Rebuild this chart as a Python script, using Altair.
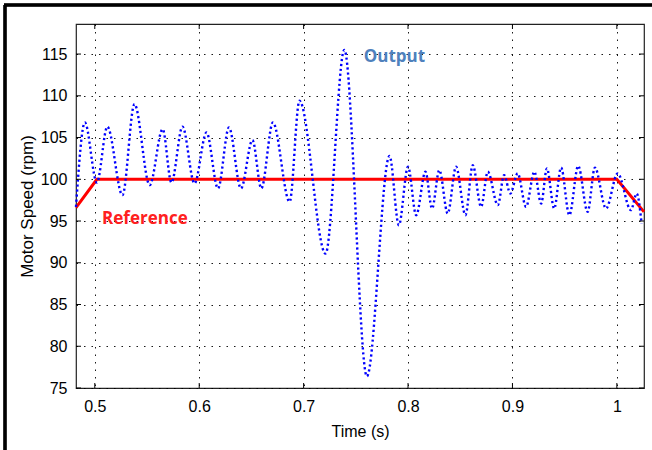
import altair as alt
import pandas as pd

# Output (motor speed): times (s) and speeds (rpm)
out_t = [0.482, 0.4905, 0.502, 0.512, 0.5265, 0.538, 0.5526, 0.565, 0.5734, 0.584,
         0.5955, 0.607, 0.618, 0.6285, 0.640, 0.651, 0.6595, 0.6706, 0.6866, 0.696,
         0.721, 0.739, 0.7606, 0.7823, 0.7912, 0.800, 0.8078, 0.8167, 0.823, 0.830,
         0.838, 0.846, 0.855, 0.862, 0.870, 0.8764, 0.886, 0.892, 0.898, 0.905,
         0.913, 0.921, 0.9275, 0.933, 0.940, 0.9466, 0.9545, 0.963, 0.972, 0.979,
         0.9896, 1.0008, 1.0135, 1.019, 1.0237]
out_v = [96.7, 106.8, 99.6, 106.3, 98.1, 109.0, 99.3, 106.0, 99.6, 106.3,
         99.5, 105.6, 98.9, 106.2, 98.9, 104.7, 98.9, 106.8, 97.3, 109.4,
         91.1, 115.5, 76.4, 102.8, 94.5, 101.5, 95.7, 100.9, 96.5, 101.1,
         95.9, 101.5, 95.7, 101.7, 96.7, 100.9, 96.9, 100.5, 98.3, 100.7,
         96.7, 100.9, 97.1, 101.3, 96.5, 101.4, 95.7, 101.6, 96.1, 101.4,
         96.5, 100.7, 96.3, 98.3, 94.7]

# Reference speed
ref_t = [0.482, 0.502, 1.0, 1.026]
ref_v = [96.6, 100.0, 100.0, 96.1]

x_ticks = [0.5, 0.6, 0.7, 0.8, 0.9, 1.0]
y_ticks = [75, 80, 85, 90, 95, 100, 105, 110, 115]
x_domain = [0.482, 1.026]
y_domain = [75, 118.6]

labels = ["Output", "Reference"]
label_t = [0.787, 0.548]
label_v = [114.6, 95.3]
label_color = ["#4f81bd", "#ff2020"]

W, H = 568, 364
FONT = "Liberation Sans"

out_df = pd.DataFrame({"t": out_t, "v": out_v})
ref_df = pd.DataFrame({"t": ref_t, "v": ref_v})
xt_df = pd.DataFrame({"t": x_ticks})
yt_df = pd.DataFrame({"v": y_ticks})
lab_df = pd.DataFrame({"t": label_t, "v": label_v, "lab": labels, "c": label_color})

xs = alt.Scale(domain=x_domain, nice=False, zero=False)
ys = alt.Scale(domain=y_domain, nice=False, zero=False)

x_axis = alt.Axis(values=x_ticks, format="~g", grid=True, gridDash=[1.5, 6],
                  gridColor="#000000", gridOpacity=0.9, tickSize=0, domain=False,
                  labelFont=FONT, labelFontSize=16, labelColor="#000", labelPadding=10,
                  title="Time (s)", titleFont=FONT, titleFontSize=16,
                  titleFontWeight="normal", titleColor="#000", titlePadding=9)
y_axis = alt.Axis(values=y_ticks, grid=True, gridDash=[1.5, 6],
                  gridColor="#000000", gridOpacity=0.9, tickSize=0, domain=False,
                  labelFont=FONT, labelFontSize=16, labelColor="#000", labelPadding=9,
                  title="Motor Speed (rpm)", titleFont=FONT, titleFontSize=17,
                  titleFontWeight="normal", titleColor="#000", titlePadding=4)

X = alt.X("t:Q", scale=xs, axis=x_axis)
Y = alt.Y("v:Q", scale=ys, axis=y_axis)

ref = alt.Chart(ref_df).mark_line(color="#ff0000", strokeWidth=3).encode(x=X, y=Y)

out = alt.Chart(out_df).mark_line(color="#0000ff", strokeWidth=2.4,
                                  strokeDash=[2.2, 2.8], interpolate="monotone").encode(x=X, y=Y)

tick_len = 5
xb = alt.Chart(xt_df).mark_rule(color="#000", strokeWidth=1).encode(
    x=X, y=alt.value(H), y2=alt.value(H - tick_len))
xtp = alt.Chart(xt_df).mark_rule(color="#000", strokeWidth=1).encode(
    x=X, y=alt.value(0), y2=alt.value(tick_len))
yl = alt.Chart(yt_df).mark_rule(color="#000", strokeWidth=1).encode(
    y=Y, x=alt.value(0), x2=alt.value(tick_len))
yr = alt.Chart(yt_df).mark_rule(color="#000", strokeWidth=1).encode(
    y=Y, x=alt.value(W), x2=alt.value(W - tick_len))

txt = alt.Chart(lab_df).mark_text(font="Open Sans", fontSize=17, fontWeight="bold").encode(
    x=X, y=Y,
    text="lab:N",
    color=alt.Color("c:N", scale=None),
)

frame_left = alt.Chart(xt_df).mark_rule(color="#000", strokeWidth=2.5).encode(
    x=alt.value(-71), y=alt.value(-19), y2=alt.value(H + 70))
frame_top = alt.Chart(xt_df).mark_rule(color="#000", strokeWidth=2.5).encode(
    x=alt.value(-72), x2=alt.value(W + 10), y=alt.value(-19))

chart = alt.layer(ref, out, xb, xtp, yl, yr, txt, frame_left, frame_top).properties(
    width=W, height=H,
    autosize=alt.AutoSizeParams(type="none"),
    padding={"left": 76, "top": 24, "right": 8, "bottom": 62},
    background="white",
).configure_view(stroke="#222222", strokeWidth=1.2)

chart.save("out.html", embed_options={"renderer": "svg", "actions": False})
